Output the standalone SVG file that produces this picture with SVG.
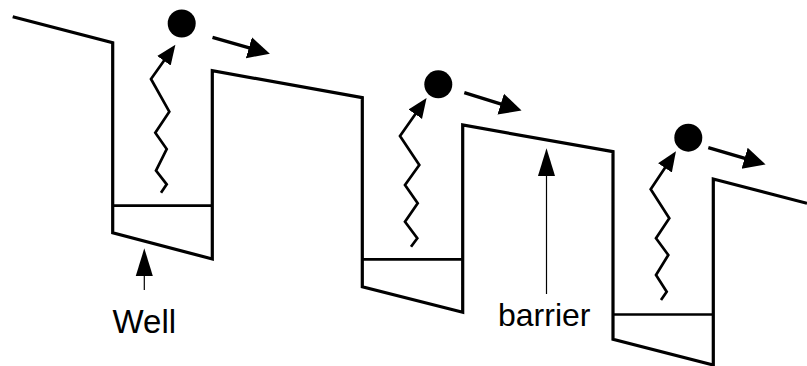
<svg xmlns="http://www.w3.org/2000/svg" width="807" height="366" viewBox="0 0 807 366">
  <style>
    .band { fill: none; stroke: #000; stroke-width: 3.2; stroke-linejoin: miter; }
    .level { fill: none; stroke: #000; stroke-width: 2.7; }
    .wave { fill: none; stroke: #000; stroke-width: 2.7; stroke-linejoin: miter; }
    .move { fill: none; stroke: #000; stroke-width: 3.3; }
    .pointer { fill: none; stroke: #000; stroke-width: 1.2; }
    .electron { fill: #000; }
    .label { font-family: "Liberation Sans", Arial, sans-serif; font-size: 32px; fill: #000; }
  </style>
  <defs>
    <marker id="headMove" markerUnits="userSpaceOnUse" markerWidth="24" markerHeight="24" viewBox="0 -11 22 22" refX="2" refY="0" orient="auto">
      <path d="M0,-10 L20,0 L0,10 Z" fill="#000"/>
    </marker>
    <marker id="headWave" markerUnits="userSpaceOnUse" markerWidth="22" markerHeight="22" viewBox="0 -9 20 18" refX="2" refY="0" orient="auto">
      <path d="M0,-7.5 L18,0 L0,7.5 Z" fill="#000"/>
    </marker>
    <marker id="headPointer" markerUnits="userSpaceOnUse" markerWidth="30" markerHeight="20" viewBox="0 -9 28 18" refX="2" refY="0" orient="auto">
      <path d="M0,-8 L26,0 L0,8 Z" fill="#000"/>
    </marker>
  </defs>

  <!-- conduction band profile under applied field -->
  <g id="band-profile">
    <path class="band" d="M12.7,16.7 L112.7,42.7 L112.7,232.7 L212.3,259 L212.3,70.7 L362.3,97.7 L362.3,286.7 L462.7,312.3 L462.7,125 L613,151.7 L613,339.3 L713.3,365 L713.3,179 L807,203.3"/>
  </g>

  <!-- quantized levels in each well -->
  <g id="well-1">
    <line class="level" x1="112.7" y1="205.7" x2="212.3" y2="205.7"/>
  </g>
  <g id="well-2">
    <line class="level" x1="362.3" y1="259.3" x2="462.7" y2="259.3"/>
  </g>
  <g id="well-3">
    <line class="level" x1="613" y1="314.5" x2="713.3" y2="314.5"/>
  </g>

  <!-- escaped electrons -->
  <g id="electron-1"><circle class="electron" cx="181.7" cy="23.5" r="14"/></g>
  <g id="electron-2"><circle class="electron" cx="438.3" cy="84.3" r="14"/></g>
  <g id="electron-3"><circle class="electron" cx="688.3" cy="137.7" r="14"/></g>

  <!-- labels -->
  <g id="label-well"><text class="label" x="112.5" y="332.7" style="font-size:33px">Well</text></g>
  <g id="label-barrier"><text class="label" x="498" y="325.7">barrier</text></g>

  <g id="connectors">
    <!-- photon excitation -->
    <polyline class="wave" marker-end="url(#headWave)" points="161,192.7 166.7,184.3 156,170.7 166.7,149 155.3,132.7 169.3,111.7 151,79 165.2,59"/>
    <polyline class="wave" marker-end="url(#headWave)" points="411,246.7 417.3,238.3 405,221.7 417.7,203.3 405,185 419.3,165 400,136 416.5,112.4"/>
    <polyline class="wave" marker-end="url(#headWave)" points="661,300 666.7,291.7 656,275 668.3,255 656,238.3 669.3,218.3 650.7,189.3 666.2,166"/>
    <!-- drift of carriers -->
    <line class="move" marker-end="url(#headMove)" x1="212.5" y1="37.3" x2="251" y2="48.3"/>
    <line class="move" marker-end="url(#headMove)" x1="464.3" y1="92.7" x2="502.8" y2="104.7"/>
    <line class="move" marker-end="url(#headMove)" x1="708.3" y1="147.7" x2="746.7" y2="158.9"/>
    <!-- label pointers -->
    <line class="pointer" marker-end="url(#headPointer)" x1="144.3" y1="290" x2="144.3" y2="274"/>
    <line class="pointer" marker-end="url(#headPointer)" x1="546.5" y1="294" x2="546.5" y2="174"/>
  </g>
</svg>
